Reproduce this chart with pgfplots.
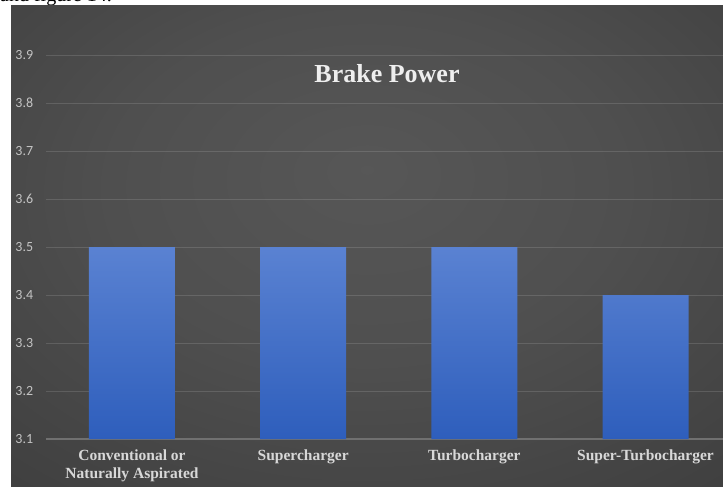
\documentclass[border=0pt]{standalone}
\usepackage{fontspec}
\setmainfont{Liberation Serif}
\newfontfamily\calib{Carlito}
\usepackage{pgfplots}
\pgfplotsset{compat=1.18}
\definecolor{axc}{RGB}{112,112,112}
\definecolor{barTop}{RGB}{90,130,210}
\definecolor{barBot}{RGB}{46,94,188}
\definecolor{tickc}{RGB}{196,196,196}
\definecolor{catc}{RGB}{216,216,216}
\definecolor{titc}{RGB}{238,238,238}
\pgfdeclareradialshading{bgshade}{\pgfpoint{0bp}{8bp}}{%
  rgb(0bp)=(0.34,0.34,0.34);
  rgb(18bp)=(0.31,0.31,0.31);
  rgb(45bp)=(0.23,0.23,0.23);
  rgb(75bp)=(0.16,0.16,0.16)}
\begin{document}
\begin{tikzpicture}[x=1pt,y=1pt]
\path[use as bounding box] (0,0) rectangle (723,488);
\fill[white] (0,0) rectangle (723,488);
\begin{scope}
\clip (0,482) rectangle (723,488);
\node[anchor=base east, inner sep=0pt, font=\fontsize{20}{24}\selectfont, text=black] at (112,486) {and figure 14.};
\end{scope}
\shade[shading=bgshade] (11,2) rectangle (723,482);
\begin{axis}[
  at={(46.4pt,49pt)}, anchor=south west,
  scale only axis, width=684.7pt, height=432pt,
  xmin=-0.5, xmax=3.5, ymin=3.1, ymax=4.0,
  xtick={0,1,2,3},
  xticklabels={{Conventional or\\Naturally Aspirated},{Supercharger},{Turbocharger},{Super-Turbocharger}},
  ytick={3.1,3.2,3.3,3.4,3.5,3.6,3.7,3.8,3.9},
  /pgf/number format/fixed, /pgf/number format/fixed zerofill, /pgf/number format/precision=1, /pgf/number format/assume math mode=true,
  yticklabel style={font=\calib\fontsize{14}{16}\selectfont, text=tickc, anchor=east, inner sep=0pt, xshift=-13pt},
  xticklabel style={font=\bfseries\fontsize{15.5}{18}\selectfont, text=catc, align=center, anchor=north, inner sep=0pt, yshift=-11pt},
  major tick length=0pt,
  tick style={draw=none},
  axis x line=bottom, axis y line=left,
  axis line style={-},
  x axis line style={draw=axc, line width=1.2pt},
  y axis line style={draw=none},
  ymajorgrids, major grid style={draw=white, draw opacity=0.13, line width=0.9pt},
  clip=false,
]
\addplot[ybar, bar width=86pt, draw=none, top color=barTop, bottom color=barBot]
 coordinates {(0,3.5) (1,3.5) (2,3.5) (3,3.4)};
\end{axis}
\node[anchor=base, inner sep=0pt, font=\bfseries\fontsize{26}{30}\selectfont, text=titc] at (387,405) {Brake Power};
\end{tikzpicture}
\end{document}
